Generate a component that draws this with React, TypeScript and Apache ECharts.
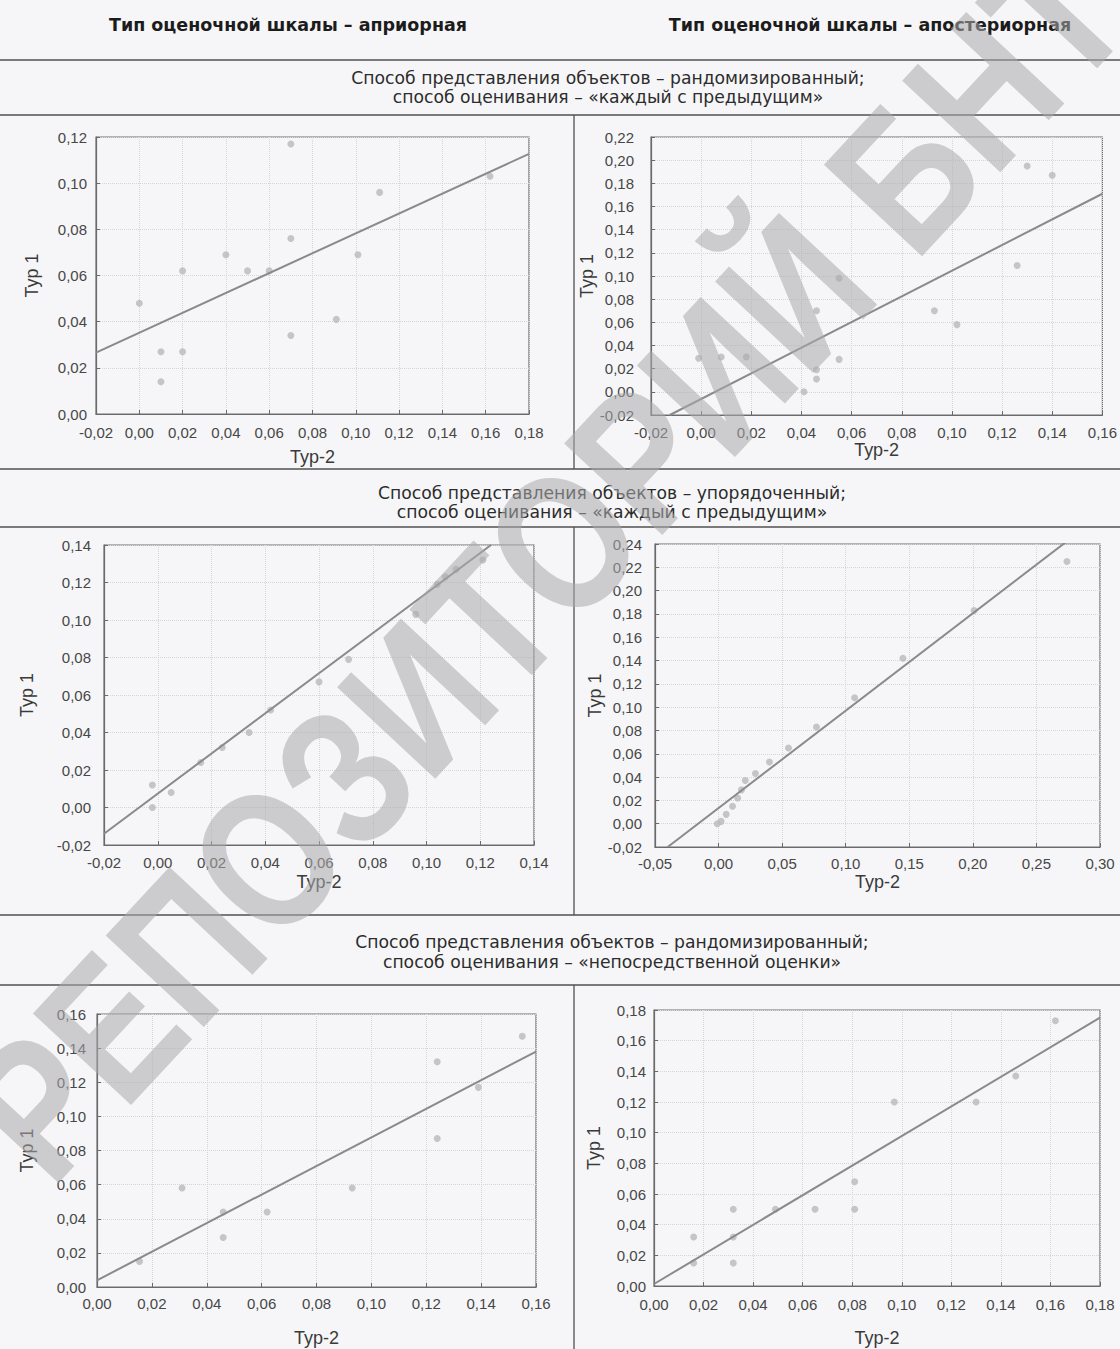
import React, { useEffect, useRef } from "react";
import * as echarts from "echarts";

const HEAD_LEFT = "Тип оценочной шкалы – априорная";
const HEAD_RIGHT = "Тип оценочной шкалы – апостериорная";
const TITLES_1 = ["Способ представления объектов – рандомизированный;", "способ оценивания – «каждый с предыдущим»"];
const TITLES_2 = ["Способ представления объектов – упорядоченный;", "способ оценивания – «каждый с предыдущим»"];
const TITLES_3 = ["Способ представления объектов – рандомизированный;", "способ оценивания – «непосредственной оценки»"];
const X_NAME = "Тур-2";
const Y_NAME = "Тур 1";
const WATERMARK = "РЕПОЗИТОРИЙ БНТУ";

// axis ranges: [min, max, interval]
const X_RANGES = [
  [-0.02, 0.18, 0.02],
  [-0.02, 0.16, 0.02],
  [-0.02, 0.14, 0.02],
  [-0.05, 0.3, 0.05],
  [0, 0.16, 0.02],
  [0, 0.18, 0.02],
];
const Y_RANGES = [
  [0, 0.12, 0.02],
  [-0.02, 0.22, 0.02],
  [-0.02, 0.14, 0.02],
  [-0.02, 0.24, 0.02],
  [0, 0.16, 0.02],
  [0, 0.18, 0.02],
];

// scatter points [Тур-2, Тур 1]
const points1 = [
  [0.0, 0.048], [0.01, 0.027], [0.01, 0.014], [0.02, 0.062], [0.02, 0.027],
  [0.04, 0.069], [0.05, 0.062], [0.06, 0.062], [0.07, 0.117], [0.07, 0.076],
  [0.07, 0.034], [0.091, 0.041], [0.101, 0.069], [0.111, 0.096], [0.162, 0.103],
];
const points2 = [
  [-0.001, 0.029], [0.008, 0.03], [0.018, 0.03], [0.041, 0.0], [0.046, 0.07],
  [0.046, 0.019], [0.046, 0.011], [0.055, 0.098], [0.055, 0.028], [0.093, 0.07],
  [0.102, 0.058], [0.126, 0.109], [0.13, 0.195], [0.14, 0.187],
];
const points3 = [
  [-0.002, 0.012], [-0.002, 0.0], [0.005, 0.008], [0.016, 0.024], [0.024, 0.032],
  [0.034, 0.04], [0.042, 0.052], [0.06, 0.067], [0.071, 0.079], [0.096, 0.103],
  [0.104, 0.119], [0.107, 0.123], [0.111, 0.127], [0.121, 0.132],
];
const points4 = [
  [-0.001, 0.0], [0.002, 0.002], [0.006, 0.008], [0.011, 0.015], [0.015, 0.022],
  [0.018, 0.029], [0.021, 0.037], [0.029, 0.043], [0.04, 0.053], [0.055, 0.065],
  [0.077, 0.083], [0.107, 0.108], [0.145, 0.142], [0.201, 0.183], [0.274, 0.225],
];
const points5 = [
  [0.0155, 0.015], [0.031, 0.058], [0.046, 0.044], [0.046, 0.029], [0.062, 0.044],
  [0.093, 0.058], [0.124, 0.132], [0.124, 0.087], [0.139, 0.117], [0.155, 0.147],
];
const points6 = [
  [0.016, 0.032], [0.016, 0.015], [0.032, 0.05], [0.032, 0.032], [0.032, 0.015],
  [0.049, 0.05], [0.065, 0.05], [0.081, 0.068], [0.081, 0.05], [0.097, 0.12],
  [0.13, 0.12], [0.146, 0.137], [0.162, 0.173],
];

// regression lines: two end points each
const fit1 = [[-0.02, 0.0266], [0.18, 0.1127]];
const fit2 = [[-0.0125, -0.02], [0.16, 0.171]];
const fit3 = [[-0.02, -0.014], [0.124, 0.14]];
const fit4 = [[-0.04, -0.02], [0.276, 0.244]];
const fit5 = [[0, 0.0039], [0.16, 0.138]];
const fit6 = [[0, 0.0013], [0.18, 0.175]];

const POINTS = [points1, points2, points3, points4, points5, points6];
const FITS = [fit1, fit2, fit3, fit4, fit5, fit6];

// layout (pixels)
const GRIDS = [
  { left: 96, top: 137, width: 433, height: 277, xMargin: 11, yMargin: 9, xGap: 34, yGap: 55 },
  { left: 651, top: 137, width: 457, height: 278, xMargin: 10, yMargin: 17, xGap: 24, yGap: 50 },
  { left: 104, top: 545, width: 430, height: 300, xMargin: 10, yMargin: 13, xGap: 28, yGap: 68 },
  { left: 655, top: 544, width: 445, height: 303, xMargin: 9, yMargin: 13, xGap: 26, yGap: 50 },
  { left: 97, top: 1014, width: 439, height: 273, xMargin: 9, yMargin: 11, xGap: 42, yGap: 61 },
  { left: 654, top: 1010, width: 446, height: 276, xMargin: 11, yMargin: 8, xGap: 43, yGap: 51 },
];

const fmt = (v: number) => v.toFixed(2).replace(".", ",");

const App = () => {
  const ref = useRef<HTMLDivElement>(null);
  useEffect(() => {
    document.body.style.margin = "0";
    if (!ref.current) return;
    const chart = echarts.init(ref.current, undefined, { renderer: "svg" });

    const tickFont = "Liberation Sans";
    const axisCommon = () => ({
      axisLine: { show: true, onZero: false, lineStyle: { color: "#6a6a6a", width: 1.2 } },
      axisTick: { show: true, inside: true, length: 4, lineStyle: { color: "#6a6a6a" } },
      splitLine: { show: true, lineStyle: { color: "#d6d6da", type: "dotted", width: 1 } },
    });

    const xAxis = GRIDS.map((g, i) => ({
      type: "value",
      gridIndex: i,
      min: X_RANGES[i][0],
      max: X_RANGES[i][1],
      interval: X_RANGES[i][2],
      ...axisCommon(),
      axisLabel: {
        formatter: fmt,
        fontSize: 15,
        color: "#474747",
        fontFamily: tickFont,
        margin: g.xMargin,
        showMinLabel: true,
        showMaxLabel: true,
      },
      name: X_NAME,
      nameLocation: "middle",
      nameGap: g.xGap,
      nameTextStyle: { fontSize: 18, color: "#3a3a3a", fontFamily: tickFont },
    }));
    const yAxis = GRIDS.map((g, i) => ({
      type: "value",
      gridIndex: i,
      min: Y_RANGES[i][0],
      max: Y_RANGES[i][1],
      interval: Y_RANGES[i][2],
      ...axisCommon(),
      axisLabel: {
        formatter: fmt,
        fontSize: 15,
        color: "#474747",
        fontFamily: tickFont,
        margin: g.yMargin,
        showMinLabel: true,
        showMaxLabel: true,
      },
      name: Y_NAME,
      nameLocation: "middle",
      nameGap: g.yGap,
      nameTextStyle: { fontSize: 18, color: "#3a3a3a", fontFamily: tickFont },
    }));

    const series: any[] = [];
    POINTS.forEach((pts, i) => {
      series.push({
        type: "scatter",
        xAxisIndex: i,
        yAxisIndex: i,
        data: pts,
        symbol: "circle",
        symbolSize: 7,
        itemStyle: { color: "#b9b9bb" },
        z: 3,
      });
      series.push({
        type: "line",
        xAxisIndex: i,
        yAxisIndex: i,
        data: FITS[i],
        symbol: "none",
        clip: true,
        lineStyle: { color: "#8a8a8c", width: 2 },
        z: 4,
      });
    });

    const W = 1120;
    const hline = (y: number, x1 = 0, x2 = W, c = "#505050", w = 1.4) => ({
      type: "line",
      shape: { x1, y1: y, x2, y2: y },
      style: { stroke: c, lineWidth: w },
      silent: true,
    });
    const vline = (x: number, y1: number, y2: number) => ({
      type: "line",
      shape: { x1: x, y1, x2: x, y2 },
      style: { stroke: "#505050", lineWidth: 1.3 },
      silent: true,
    });
    const text = (t: string, x: number, y: number, size: number, bold = false) => ({
      type: "text",
      x,
      y,
      silent: true,
      style: {
        text: t,
        fill: bold ? "#1c1c1c" : "#2c2c2c",
        fontSize: size,
        fontWeight: bold ? "bold" : "normal",
        fontFamily: "DejaVu Sans",
        textAlign: "center",
        textVerticalAlign: "middle",
      },
    });

    const graphic: any[] = [
      text(HEAD_LEFT, 288, 25, 17.5, true),
      text(HEAD_RIGHT, 870, 25, 17.5, true),
      hline(60),
      text(TITLES_1[0], 608, 78, 17.2),
      text(TITLES_1[1], 608, 97, 17.2),
      hline(115),
      vline(574, 115, 469),
      hline(469),
      text(TITLES_2[0], 612, 493, 17.2),
      text(TITLES_2[1], 612, 512, 17.2),
      hline(527),
      vline(574, 527, 915),
      hline(915),
      text(TITLES_3[0], 612, 942, 17.2),
      text(TITLES_3[1], 612, 962, 17.2),
      hline(985),
      vline(574, 985, 1349),
      {
        type: "text",
        x: 2,
        y: 1145,
        rotation: 0.82,
        scaleX: 0.82,
        scaleY: 1,
        z: 100,
        silent: true,
        style: {
          text: WATERMARK,
          fill: "rgba(170,170,172,0.55)",
          fontSize: 195,
          fontWeight: "bold",
          fontFamily: "Liberation Sans",
          textAlign: "left",
          textVerticalAlign: "middle",
        },
      },
    ];

    chart.setOption({
      animation: false,
      backgroundColor: "#f6f6f8",
      grid: GRIDS.map((g) => ({
        left: g.left,
        top: g.top,
        width: g.width,
        height: g.height,
        show: true,
        borderColor: "#707070",
        borderWidth: 1.2,
        backgroundColor: "transparent",
        containLabel: false,
      })),
      xAxis,
      yAxis,
      series,
      graphic,
    });
    return () => chart.dispose();
  }, []);
  return <div ref={ref} style={{ width: 1120, height: 1349 }} />;
};

export default App;
